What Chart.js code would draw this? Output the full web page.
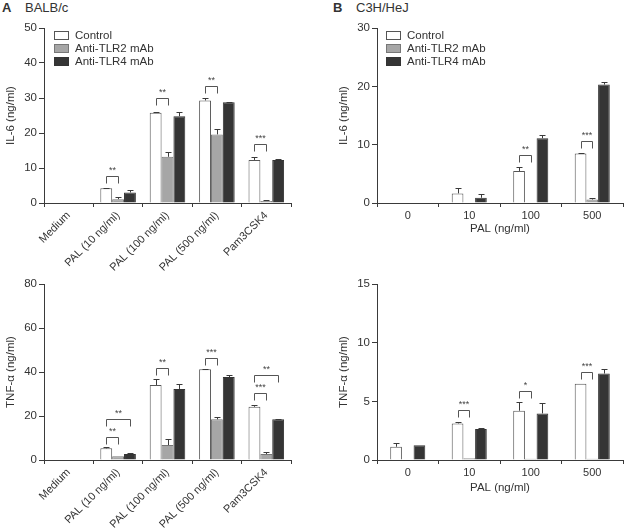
<!DOCTYPE html>
<html>
<head>
<meta charset="utf-8">
<script src="https://cdn.jsdelivr.net/npm/chart.js@4"></script>
<style>
  body { margin: 0; background: #fff; font-family: "Liberation Sans", Arial, sans-serif; color: #333; }
  #page { position: relative; width: 624px; height: 529px; overflow: hidden; }
  canvas { position: absolute; }
  .panel { position: absolute; top: 0; font-size: 13px; }
  .panel b { font-size: 13px; margin-right: 10px; }
  .legend { position: absolute; font-size: 11.5px; line-height: 13px; }
  .legend div { position: relative; padding-left: 21px; height: 13px; }
  .legend span { position: absolute; left: 0; top: 2px; width: 13px; height: 7px; border: 1px solid #444; }
</style>
</head>
<body>
<div id="page">
  <div class="panel" style="left:2px;"><b>A</b> BALB/c</div>
  <div class="panel" style="left:333px;"><b>B</b> C3H/HeJ</div>
  <canvas id="a-il6" width="300" height="282" style="left:0;top:18px;"></canvas>
  <canvas id="a-tnf" width="300" height="255" style="left:0;top:274px;"></canvas>
  <canvas id="b-il6" width="291" height="222" style="left:333px;top:18px;"></canvas>
  <canvas id="b-tnf" width="291" height="225" style="left:333px;top:274px;"></canvas>
  <div class="legend" id="legend-a" style="left:54px;top:29px;"></div>
  <div class="legend" id="legend-b" style="left:386px;top:29px;"></div>
</div>
<script>
// Categorias y series
const categoriesA = ['Medium', 'PAL (10 ng/ml)', 'PAL (100 ng/ml)', 'PAL (500 ng/ml)', 'Pam3CSK4'];
const categoriesB = ['0', '10', '100', '500'];
const seriesNames = ['Control', 'Anti-TLR2 mAb', 'Anti-TLR4 mAb'];
const seriesFill = ['#ffffff', '#a6a6a6', '#353535'];
const seriesBorder = ['#555555', '#777777', '#333333'];

// BALB/c IL-6
const il6A_control = [0, 4.2, 25.8, 29.3, 12.3];
const il6A_tlr2 = [0, 1.1, 13.2, 19.6, 0.6];
const il6A_tlr4 = [0, 3.0, 24.8, 28.8, 12.3];
const il6A_errControl = [0, 0.2, 0.2, 0.6, 0.8];
const il6A_errTlr2 = [0, 0.7, 1.3, 1.6, 0.2];
const il6A_errTlr4 = [0, 0.6, 1.2, 0.2, 0.2];

// BALB/c TNF-alpha
const tnfA_control = [0, 5.3, 34.1, 41.2, 24.2];
const tnfA_tlr2 = [0, 1.7, 6.8, 18.5, 2.7];
const tnfA_tlr4 = [0, 2.7, 32.3, 37.7, 18.5];
const tnfA_errControl = [0, 0.5, 2.6, 0.3, 1.0];
const tnfA_errTlr2 = [0, 0, 2.8, 1.0, 0.9];
const tnfA_errTlr4 = [0, 0.6, 2.4, 0.8, 0.3];

// C3H/HeJ IL-6
const il6B_control = [0, 1.65, 5.5, 8.5];
const il6B_tlr2 = [0, 0, 0, 0.6];
const il6B_tlr4 = [0, 0.9, 11.1, 20.3];
const il6B_errControl = [0, 0.85, 0.75, 0.1];
const il6B_errTlr2 = [0, 0, 0, 0.3];
const il6B_errTlr4 = [0, 0.6, 0.5, 0.5];

// C3H/HeJ TNF-alpha
const tnfB_control = [1.13, 3.12, 4.2, 6.5];
const tnfB_tlr2 = [0, 0.15, 0.1, 0.1];
const tnfB_tlr4 = [1.25, 2.64, 3.97, 7.37];
const tnfB_errControl = [0.28, 0.08, 0.76, 0];
const tnfB_errTlr2 = [0, 0, 0, 0];
const tnfB_errTlr4 = [0, 0.05, 0.9, 0.4];

// Marcas de significancia: [categoria, serie desde, serie hasta, valor y, texto]
const il6A_sig = [[1, 0, 1, 7.7, '**'], [2, 0, 1, 29.9, '**'], [3, 0, 1, 33.4, '**'], [4, 0, 1, 16.9, '***']];
const tnfA_sig = [[1, 0, 1, 10.3, '**'], [1, 0, 2, 18.5, '**'], [2, 0, 1, 41.7, '**'], [3, 0, 1, 46.5, '***'], [4, 0, 1, 30.3, '***'], [4, 0, 2, 38.5, '**']];
const il6B_sig = [[2, 0, 1, 8.2, '**'], [3, 0, 1, 10.6, '***']];
const tnfB_sig = [[1, 0, 1, 4.25, '***'], [2, 0, 1, 5.9, '*'], [3, 0, 1, 7.46, '***']];

const FONT = '"Liberation Sans", Arial, sans-serif';
const LINE = '#3a3a3a';

// Leyendas en HTML
const buildLegend = (id) => {
    const el = document.getElementById(id);
    seriesNames.forEach((name, i) => {
        el.innerHTML += `<div><span style="background:${seriesFill[i]};border-color:${seriesBorder[i]}"></span>${name}</div>`;
    });
};
buildLegend('legend-a');
buildLegend('legend-b');

// Plugin para barras de error y corchetes de significancia
const marksPlugin = (errors, sigs) => ({
    id: 'marks',
    afterDatasetsDraw(chart) {
        const ctx = chart.ctx;
        const yScale = chart.scales.y;
        ctx.save();
        ctx.strokeStyle = LINE;
        ctx.lineWidth = 1;
        errors.forEach((errs, i) => {
            const meta = chart.getDatasetMeta(i);
            const values = chart.data.datasets[i].data;
            meta.data.forEach((bar, j) => {
                if (!errs[j]) return;
                const x = Math.round(bar.x) + 0.5;
                const y0 = bar.y;
                const y1 = Math.round(yScale.getPixelForValue(values[j] + errs[j])) + 0.5;
                ctx.beginPath();
                ctx.moveTo(x, y0);
                ctx.lineTo(x, y1);
                ctx.moveTo(x - 3, y1);
                ctx.lineTo(x + 3, y1);
                ctx.stroke();
            });
        });
        ctx.strokeStyle = '#555';
        ctx.fillStyle = '#444';
        ctx.font = `9px ${FONT}`;
        ctx.textAlign = 'center';
        ctx.textBaseline = 'bottom';
        sigs.forEach(([cat, s1, s2, val, label]) => {
            const xa = Math.round(chart.getDatasetMeta(s1).data[cat].x) + 0.5;
            const xb = Math.round(chart.getDatasetMeta(s2).data[cat].x) + 0.5;
            const y = Math.round(yScale.getPixelForValue(val)) + 0.5;
            ctx.beginPath();
            ctx.moveTo(xa, y + 7);
            ctx.lineTo(xa, y);
            ctx.lineTo(xb, y);
            ctx.lineTo(xb, y + 7);
            ctx.stroke();
            ctx.fillText(label, (xa + xb) / 2, y - 1);
        });
        ctx.restore();
    }
});

// Crea un grafico de barras agrupadas
const makeChart = (id, cfg) => {
    const datasets = cfg.series.map((data, i) => ({
        label: seriesNames[i],
        data: data,
        backgroundColor: seriesFill[i],
        borderColor: seriesBorder[i],
        borderWidth: 1,
        categoryPercentage: cfg.catPct,
        barPercentage: 1.0
    }));
    return new Chart(document.getElementById(id), {
        type: 'bar',
        data: { labels: cfg.labels, datasets: datasets },
        options: {
            responsive: false,
            animation: false,
            layout: { padding: { top: 10, right: cfg.padRight, left: 0, bottom: 0 } },
            plugins: { legend: { display: false }, tooltip: { enabled: false } },
            scales: {
                x: {
                    grid: { display: true, drawOnChartArea: false, drawTicks: true, tickLength: 4, color: LINE, offset: true },
                    border: { color: LINE, width: 1 },
                    ticks: { color: '#333', font: { family: FONT, size: 11 }, autoSkip: false, minRotation: cfg.rotation, maxRotation: cfg.rotation, padding: 2 },
                    title: { display: !!cfg.xTitle, text: cfg.xTitle || '', color: '#333', font: { family: FONT, size: 11.5 }, padding: { top: 2, bottom: 4 } },
                    afterFit: (s) => { s.height = cfg.xHeight; }
                },
                y: {
                    min: 0,
                    max: cfg.max,
                    grid: { display: true, drawOnChartArea: false, drawTicks: true, tickLength: 5, color: LINE },
                    border: { color: LINE, width: 1 },
                    ticks: { stepSize: cfg.step, color: '#333', font: { family: FONT, size: 11.5 }, padding: 2 },
                    title: { display: true, text: cfg.yTitle, color: '#333', font: { family: FONT, size: 11.5 }, padding: { top: 4, bottom: 4 } },
                    afterFit: (s) => { s.width = 44; }
                }
            }
        },
        plugins: [marksPlugin(cfg.errors, cfg.sigs)]
    });
};

makeChart('a-il6', {
    labels: categoriesA, series: [il6A_control, il6A_tlr2, il6A_tlr4],
    errors: [il6A_errControl, il6A_errTlr2, il6A_errTlr4], sigs: il6A_sig,
    max: 50, step: 10, yTitle: 'IL-6 (ng/ml)', rotation: 45, xHeight: 97, padRight: 9, catPct: 0.72
});
makeChart('a-tnf', {
    labels: categoriesA, series: [tnfA_control, tnfA_tlr2, tnfA_tlr4],
    errors: [tnfA_errControl, tnfA_errTlr2, tnfA_errTlr4], sigs: tnfA_sig,
    max: 80, step: 20, yTitle: 'TNF-α (ng/ml)', rotation: 45, xHeight: 69, padRight: 9, catPct: 0.72
});
makeChart('b-il6', {
    labels: categoriesB, series: [il6B_control, il6B_tlr2, il6B_tlr4],
    errors: [il6B_errControl, il6B_errTlr2, il6B_errTlr4], sigs: il6B_sig,
    max: 30, step: 10, yTitle: 'IL-6 (ng/ml)', xTitle: 'PAL (ng/ml)', rotation: 0, xHeight: 37, padRight: 1, catPct: 0.57
});
makeChart('b-tnf', {
    labels: categoriesB, series: [tnfB_control, tnfB_tlr2, tnfB_tlr4],
    errors: [tnfB_errControl, tnfB_errTlr2, tnfB_errTlr4], sigs: tnfB_sig,
    max: 15, step: 5, yTitle: 'TNF-α (ng/ml)', xTitle: 'PAL (ng/ml)', rotation: 0, xHeight: 39, padRight: 1, catPct: 0.57
});
</script>
</body>
</html>
